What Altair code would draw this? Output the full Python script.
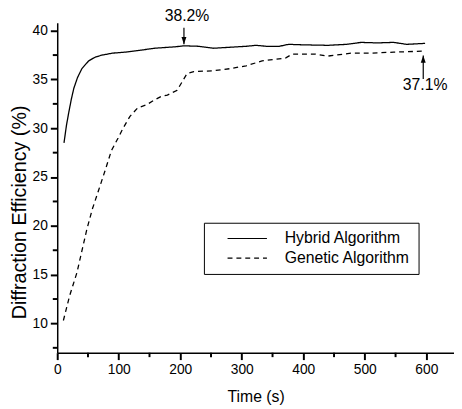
import altair as alt
import pandas as pd

# ---- data ----
series_names = ["Hybrid Algorithm", "Genetic Algorithm"]

hybrid_t = [11, 15, 19, 23, 27, 33, 40, 51, 62, 73, 90, 110, 130, 158, 192, 206,
            230, 254, 280, 307, 323, 340, 361, 376, 400, 440, 470, 494, 520, 547, 568, 598]
hybrid_v = [28.5, 30.3, 31.7, 33.0, 34.1, 35.2, 36.1, 36.9, 37.3, 37.5, 37.7, 37.8,
            37.95, 38.2, 38.35, 38.45, 38.4, 38.2, 38.3, 38.4, 38.5, 38.4, 38.4, 38.6,
            38.55, 38.5, 38.6, 38.8, 38.75, 38.8, 38.6, 38.7]

genetic_t = [10, 20, 32, 40, 48, 57, 67, 78, 88, 99, 107, 118, 131, 145, 158, 170,
             179, 195, 211, 222, 254, 280, 307, 333, 371, 382, 419, 440, 478, 510, 547, 593]
genetic_v = [10.3, 12.8, 15.2, 17.4, 19.6, 21.7, 23.6, 25.7, 27.7, 29.0, 30.0, 31.2,
             32.1, 32.4, 32.9, 33.3, 33.4, 33.9, 35.6, 35.8, 35.9, 36.1, 36.4, 36.9,
             37.2, 37.6, 37.6, 37.4, 37.7, 37.7, 37.8, 37.9]

x_major_ticks = [0, 100, 200, 300, 400, 500, 600]
x_minor_ticks = [50, 150, 250, 350, 450, 550]
y_major_ticks = [10, 15, 20, 25, 30, 35, 40]
y_minor_ticks = [7.5, 12.5, 17.5, 22.5, 27.5, 32.5, 37.5]

ann_text = ["38.2%", "37.1%"]
ann_text_t = [211, 598]
ann_text_v = [41.5, 34.45]
arrow_t = [206, 595]
arrow_from = [40.3, 35.05]
arrow_to = [38.6, 37.47]
arrow_dir = ["down", "up"]

FONT = "Liberation Sans"
W, H = 403, 335
TICK = "black"

lines_df = pd.DataFrame({
    "t": hybrid_t + genetic_t,
    "v": hybrid_v + genetic_v,
    "series": [series_names[0]] * len(hybrid_t) + [series_names[1]] * len(genetic_t),
})
ann_df = pd.DataFrame({"label": ann_text, "t": ann_text_t, "v": ann_text_v})
arrow_df = pd.DataFrame({"t": arrow_t, "v0": arrow_from, "v1": arrow_to, "dir": arrow_dir})
xminor_df = pd.DataFrame({"t": x_minor_ticks})
yminor_df = pd.DataFrame({"v": y_minor_ticks})

x_scale = alt.Scale(domain=[0, 645], nice=False, zero=False)
y_scale = alt.Scale(domain=[7, 40.8], nice=False, zero=False)

x_axis = alt.Axis(
    title="Time (s)", values=x_major_ticks, tickSize=7, tickWidth=2, tickColor=TICK,
    labelFontSize=14, titleFontSize=16, labelPadding=3, titlePadding=13,
    labelFlush=False, labelOverlap=False, grid=False,
)
y_axis = alt.Axis(
    title="Diffraction Efficiency (%)", values=y_major_ticks, tickSize=7,
    tickWidth=2, tickColor=TICK,
    labelFontSize=14, titleFontSize=20, labelPadding=3, titlePadding=3,
    titleY=192, labelOverlap=False, grid=False,
)

lines = alt.Chart(lines_df).mark_line(color="black", strokeWidth=1.3).encode(
    x=alt.X("t:Q", scale=x_scale, axis=x_axis),
    y=alt.Y("v:Q", scale=y_scale, axis=y_axis),
    strokeDash=alt.StrokeDash(
        "series:N",
        scale=alt.Scale(domain=series_names, range=[[1, 0], [5, 4]]),
        legend=alt.Legend(
            title=None, orient="none", legendX=149, legendY=203,
            strokeColor="black", padding=8, rowPadding=4,
            symbolType="M-4,0H4", symbolSize=100, symbolStrokeColor="black",
            symbolStrokeWidth=1.2, symbolOffset=28, labelOffset=30,
            labelFontSize=16, labelFont=FONT, labelColor="black",
        ),
    ),
)

rules = alt.Chart(arrow_df).mark_rule(color="black", strokeWidth=1.2).encode(
    x=alt.X("t:Q", scale=x_scale, axis=x_axis),
    y=alt.Y("v0:Q", scale=y_scale, axis=y_axis),
    y2="v1:Q",
)

heads = alt.Chart(arrow_df).mark_point(filled=True, color="black", opacity=1, size=25).encode(
    x=alt.X("t:Q", scale=x_scale, axis=x_axis),
    y=alt.Y("v1:Q", scale=y_scale, axis=y_axis),
    shape=alt.Shape("dir:N", scale=alt.Scale(domain=["down", "up"],
                    range=["M0,0L-1,-3L1,-3Z", "M0,0L-1,3L1,3Z"]), legend=None),
)

texts = alt.Chart(ann_df).mark_text(font=FONT, fontSize=16, color="black",
                                    align="center", baseline="middle").encode(
    x=alt.X("t:Q", scale=x_scale, axis=x_axis),
    y=alt.Y("v:Q", scale=y_scale, axis=y_axis),
    text="label:N",
)

# minor (unlabelled) ticks, drawn outward like the major ones
xminor = alt.Chart(xminor_df).mark_tick(color=TICK, thickness=2, size=4.5,
                                        orient="vertical", opacity=1).encode(
    x=alt.X("t:Q", scale=x_scale, axis=x_axis),
    y=alt.value(H + 2.25),
)
yminor = alt.Chart(yminor_df).mark_tick(color=TICK, thickness=2, size=4.5,
                                        orient="horizontal", opacity=1).encode(
    y=alt.Y("v:Q", scale=y_scale, axis=y_axis),
    x=alt.value(-2.25),
)

chart = alt.layer(lines, rules, heads, texts, xminor, yminor).properties(
    width=W, height=H,
    autosize=alt.AutoSizeParams(type="none"),
    padding={"left": 50, "top": 12, "right": 0, "bottom": 50},
    background="white",
).configure_view(stroke=None).configure_axis(
    domainColor="black", domainWidth=1.5,
    labelColor="black", titleColor="black", labelFont=FONT, titleFont=FONT,
    titleFontWeight="normal",
)

chart.save("out.html", embed_options={"renderer": "svg", "actions": False})
